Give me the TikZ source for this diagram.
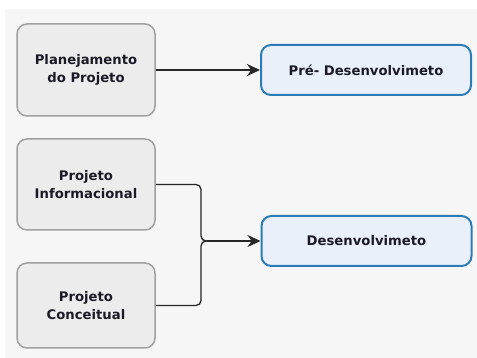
\documentclass[tikz,border=0pt]{standalone}
\usepackage{fontspec}
\setmainfont{DejaVu Sans}
\usetikzlibrary{arrows.meta}
\definecolor{bgc}{HTML}{F6F6F6}
\definecolor{grayfill}{HTML}{ECECEC}
\definecolor{grayline}{HTML}{A0A0A0}
\definecolor{bluefill}{HTML}{EAF0FA}
\definecolor{blueline}{HTML}{2B7BB5}
\definecolor{txt}{HTML}{1A1A26}
\definecolor{conn}{HTML}{262626}
\tikzset{
  graybox/.style={draw=grayline, line width=1.5pt, fill=grayfill, rounded corners=10pt,
    minimum width=138pt, align=center, text=txt,
    font=\fontsize{13.2pt}{18pt}\selectfont\bfseries, inner sep=0pt},
  bluebox/.style={draw=blueline, line width=2pt, fill=bluefill, rounded corners=10pt,
    minimum width=210pt, minimum height=50pt, align=center, text=txt,
    font=\fontsize{13.2pt}{18pt}\selectfont\bfseries, inner sep=0pt},
  conline/.style={draw=conn, line width=1.3pt},
  arr/.style={conline, -{Stealth[length=13pt,width=12pt]}}
}
\begin{document}
\begin{tikzpicture}[x=1pt,y=-1pt]
\useasboundingbox (0,0) rectangle (477,358);
\fill[white] (0,0) rectangle (477,358);
\fill[bgc] (5,9) rectangle (477,358);
\node[graybox, minimum height=92pt] (plan) at (86,70) {Planejamento\\do Projeto};
\node[graybox, minimum height=91pt] (inf) at (86,184.5) {Projeto\\Informacional};
\node[graybox, minimum height=85pt] (conc) at (86,305.5) {Projeto\\Conceitual};
\node[bluebox] (pre) at (366,70) {Pré- Desenvolvimeto};
\node[bluebox] (dev) at (366.5,241) {Desenvolvimeto};
\coordinate (jx) at (201,241);
\coordinate (jt) at (207,241);
\draw[arr] (plan.east) -- (pre.west);
\draw[conline, rounded corners=5pt] (inf.east) -| (jx) -- (jt);
\draw[conline, rounded corners=5pt] (conc.east) -| (jx) -- (jt);
\draw[arr] (jt) -- (dev.west);
\end{tikzpicture}
\end{document}
